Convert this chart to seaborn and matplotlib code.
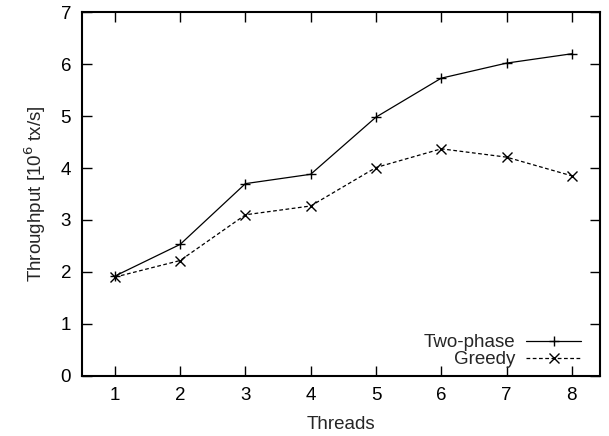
import pandas as pd
import seaborn as sns
import matplotlib.pyplot as plt

threads = [1, 2, 3, 4, 5, 6, 7, 8]
two_phase = [1.92, 2.53, 3.70, 3.88, 4.98, 5.73, 6.02, 6.20]
greedy = [1.90, 2.22, 3.10, 3.27, 4.01, 4.37, 4.21, 3.85]
series_names = ['Two-phase', 'Greedy']

df = pd.DataFrame({
    'Threads': threads * 2,
    'Throughput': two_phase + greedy,
    'Method': [series_names[0]] * len(threads) + [series_names[1]] * len(threads),
})

sns.set_style('ticks')
plt.rcParams['font.family'] = ['Liberation Sans', 'DejaVu Sans']
plt.rcParams['font.size'] = 13.5

fig = plt.figure(figsize=(6.09, 4.36), dpi=100)
ax = fig.add_axes([0.135, 0.138, 0.85, 0.834])

sns.lineplot(data=df, x='Threads', y='Throughput', style='Method',
             markers={'Two-phase': '+', 'Greedy': 'x'},
             dashes={'Two-phase': '', 'Greedy': (3, 2)},
             color='black', linewidth=0.9, markersize=7, markeredgewidth=1.0,
             markeredgecolor='black', ax=ax)

ax.set_xlim(0.5, 8.43)
ax.set_ylim(0, 7)
ax.set_xticks(threads)
ax.set_yticks(range(0, 8))
ax.set_xlabel('Threads', labelpad=9)
ax.set_ylabel('Throughput [10$^6$ tx/s]', labelpad=9)
ax.tick_params(direction='in', length=7, width=1.0, top=True, right=True,
               labelsize=13.5, pad=8, colors='black')
for s in ax.spines.values():
    s.set_visible(True)
    s.set_linewidth(1.5)
    s.set_color('black')

leg = ax.legend(loc='lower right', bbox_to_anchor=(0.985, -0.01),
                frameon=False, markerfirst=False, title=None,
                fontsize=13.5, handlelength=2.9, handletextpad=0.6,
                labelspacing=0.0, borderaxespad=0.2)
for h in leg.legend_handles:
    h.set_markeredgecolor('black')

plt.savefig('out.png', dpi=100)
